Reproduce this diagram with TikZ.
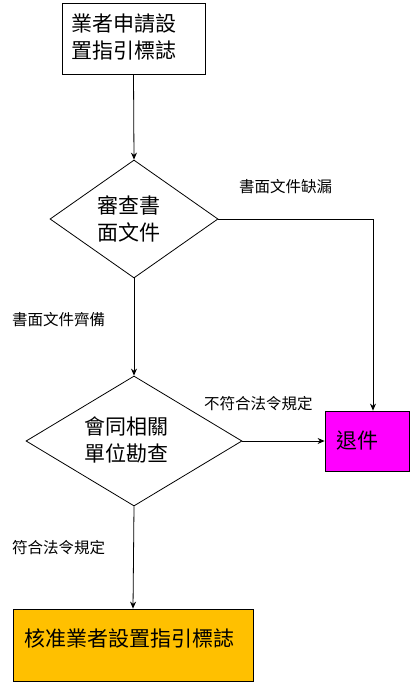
\documentclass[tikz,border=0pt]{standalone}
\usepackage{fontspec}
\setmainfont{Noto Sans CJK TC}
\usetikzlibrary{shapes.geometric,arrows.meta}
\begin{document}
\begin{tikzpicture}[x=1pt,y=-1pt,
  boxshape/.style={draw=black,line width=0.8pt,inner sep=0pt,minimum width=#1},
  dshape/.style={draw=black,line width=0.8pt,shape=diamond,inner sep=0pt,aspect=1.4},
  bigtext/.style={font=\fontsize{21pt}{27pt}\selectfont,inner sep=0pt,align=left},
  lbl/.style={font=\fontsize{15.5pt}{18pt}\selectfont,inner sep=0pt,anchor=west},
  conn/.style={draw=black,line width=0.8pt,-{Stealth[length=7pt,width=6pt]}},
  plain/.style={draw=black,line width=0.8pt}]
\useasboundingbox (0,0) rectangle (414,685);
% nodes
\node[boxshape=143pt,minimum height=71pt,fill=white] (b1) at (133.5,38.5) {};
\node[bigtext,anchor=west,align=left] (t1) at (71,36.5) {業者申請設\\置指引標誌};
\node[dshape,minimum width=168pt,minimum height=118pt] (d1) at (134,219) {};
\node[bigtext,align=center] (t2) at (129,219) {審查書\\面文件};
\node[dshape,minimum width=216pt,minimum height=130pt] (d2) at (134,441) {};
\node[bigtext,align=center] (t3) at (126,440) {會同相關\\單位勘查};
\node[boxshape=84pt,minimum height=60pt,fill={rgb,255:red,255;green,0;blue,255}] (rt) at (367,441) {};
\node[bigtext] (t4) at (357.5,441) {退件};
\node[boxshape=240pt,minimum height=72pt,fill={rgb,255:red,255;green,192;blue,0}] (ok) at (133,645) {};
\node[bigtext,anchor=west] (t5) at (24,638) {核准業者設置指引標誌};
% labels
\node[lbl] (l1) at (239,187) {書面文件缺漏};
\node[lbl] (l2) at (12,320) {書面文件齊備};
\node[lbl] (l3) at (204,404) {不符合法令規定};
\node[lbl] (l4) at (12,548) {符合法令規定};
% connectors
\coordinate (rtin) at ([xshift=6pt]rt.north);
\draw[conn] (b1.south) -- (d1.north);
\draw[conn] (d1.east) -| (rtin);
\draw[conn] (d1.south) -- (d2.north);
\draw[conn] (d2.east) -- (rt.west);
\draw[conn] (d2.south) -- (ok.north);
\end{tikzpicture}
\end{document}
